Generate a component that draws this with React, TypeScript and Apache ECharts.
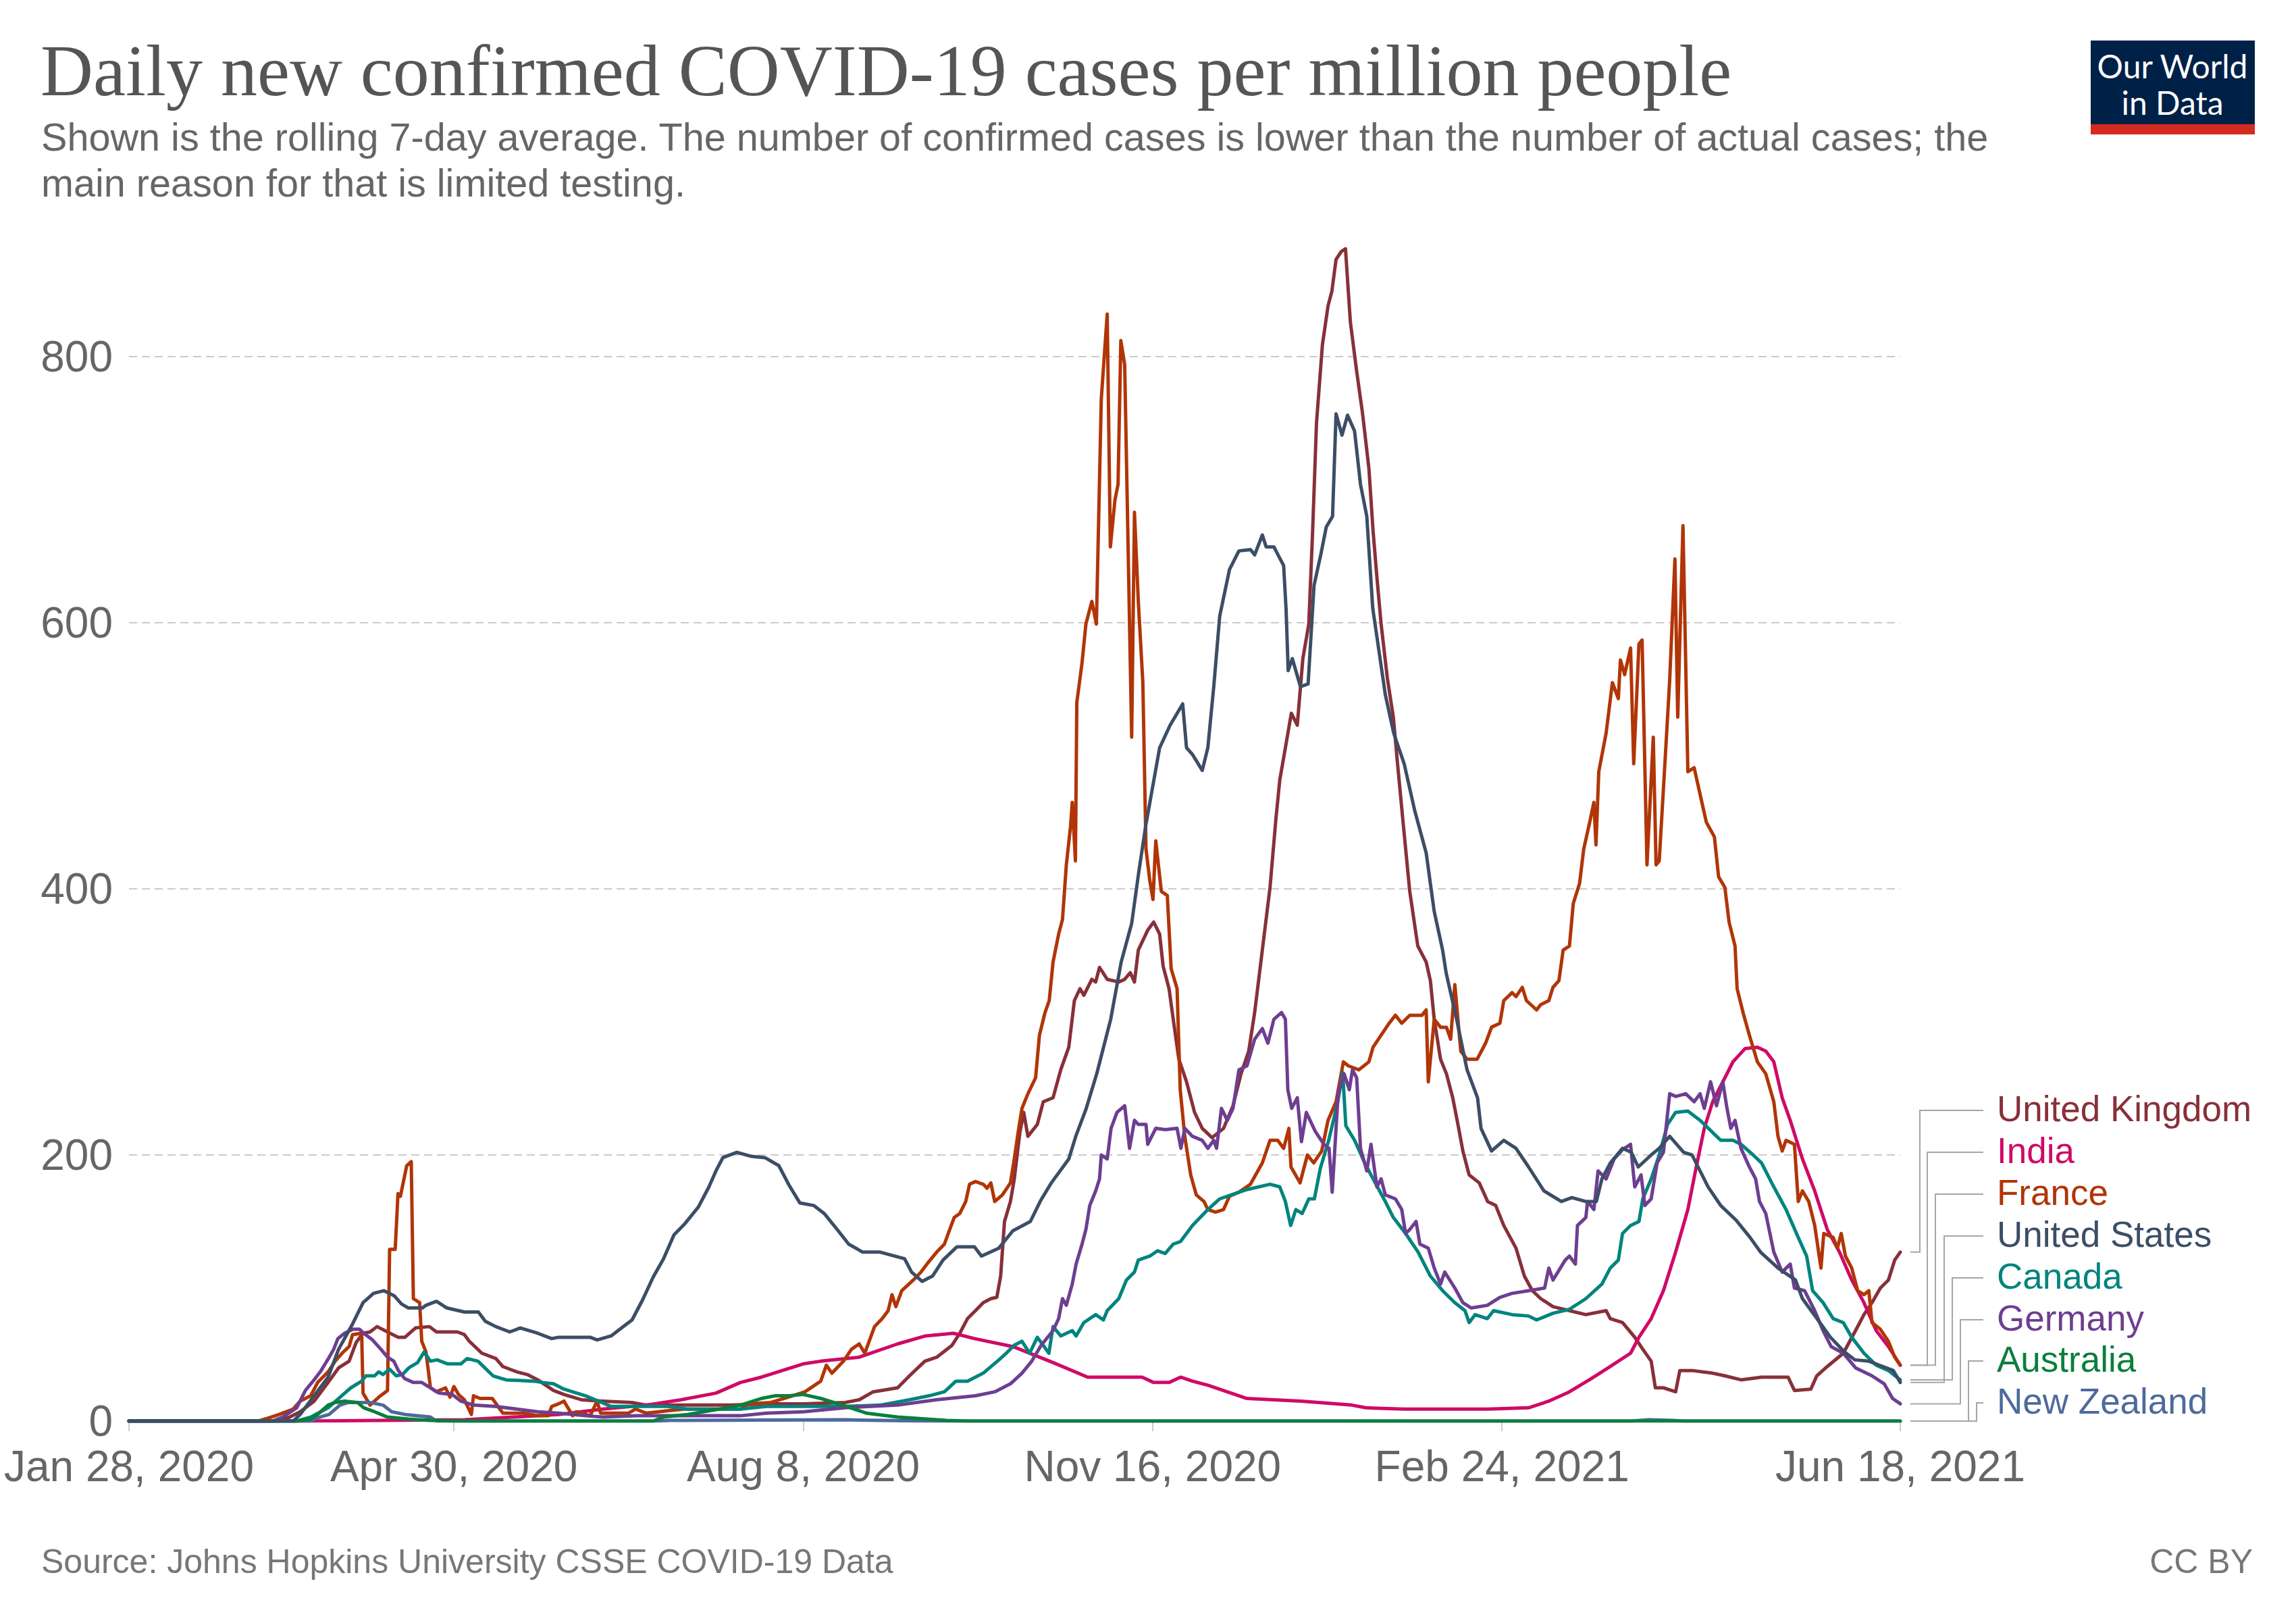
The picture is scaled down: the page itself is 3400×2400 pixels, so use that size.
import { useEffect, useRef } from 'react'
import * as echarts from 'echarts'

// day 0 = Jan 28, 2020; last day 507 = Jun 18, 2021
const tickDays = [0, 93, 193, 293, 393, 507]
const tickLabels = ['Jan 28, 2020', 'Apr 30, 2020', 'Aug 8, 2020', 'Nov 16, 2020', 'Feb 24, 2021', 'Jun 18, 2021']
const yTicks = [0, 200, 400, 600, 800]

const unitedKingdom = [
  [0, 0], [42, 0], [46, 3], [49, 7], [53, 15], [57, 29], [60, 40], [63, 45], [65, 59], [67, 66], [69, 67], [71, 71], [74, 67], [77, 63], [79, 63], [82, 70], [86, 71], [88, 67], [94, 67], [96, 65], [97.4, 60], [101, 51], [105, 47], [107, 41], [111, 37], [114, 35], [117, 31], [121.5, 23], [124.5, 20], [129.5, 16], [135.6, 15], [144, 14], [148, 12], [172, 12], [185, 13], [193, 13], [205, 14], [209, 16], [213, 22], [220, 25], [223.4, 34], [227.8, 45], [231.2, 48], [235.6, 57], [237.8, 66], [240, 77], [242.3, 83], [244.5, 89], [246.7, 92], [248.4, 93], [249.5, 109], [250.6, 150], [252.3, 165], [253.4, 182], [255, 217], [256.1, 232], [257.3, 214], [260, 223], [261.7, 240], [264.5, 243], [266.7, 264], [269, 281], [270.6, 316], [272.2, 325], [273.3, 320], [275.6, 332], [276.7, 330], [277.8, 341], [280, 332], [283.3, 330], [285, 332], [286.6, 337], [287.8, 330], [288.9, 354], [291.6, 369], [293.3, 375], [295, 366], [296, 342], [297.7, 325], [298.9, 302], [300.5, 272], [302.7, 255], [305, 232], [307.2, 220], [310, 213], [313.3, 220], [316, 237], [318.3, 261], [320.5, 278], [322.2, 307], [324.4, 354], [326.6, 401], [328.3, 453], [329.4, 482], [331, 506], [332.7, 532], [334.4, 523], [336, 573], [337.7, 599], [338.8, 669], [339.9, 750], [341.6, 809], [343.2, 838], [344.3, 849], [345.5, 873], [347, 879], [348.2, 881], [349.6, 826], [351.4, 789], [353.1, 757], [354.9, 716], [356.1, 669], [357.2, 634], [358.4, 599], [360.2, 558], [361.9, 529], [363.1, 494], [364.8, 447], [366.6, 398], [368.9, 357], [371.3, 345], [372.5, 331], [373.6, 302], [375.4, 272], [377.1, 261], [378.9, 243], [380.6, 220], [381.8, 203], [383.6, 185], [386.5, 179], [388.9, 165], [391.2, 162], [393.5, 147], [397, 130], [399.4, 109], [401.7, 98], [404.1, 92], [407.6, 86], [412.3, 83], [417, 80], [422.8, 83], [424, 77], [427.5, 74], [431, 63], [433.3, 54], [435.7, 45], [436.9, 25], [439.2, 25], [442.7, 22], [443.9, 38], [447.4, 38], [453.3, 36], [456.8, 34], [461.4, 31], [467.3, 33], [474.9, 33], [476.7, 23], [481.4, 24], [483.1, 34], [486.1, 41], [490.7, 51], [494.2, 68], [496.6, 80], [498.9, 89], [501.3, 100], [503.6, 106], [505.4, 121], [507, 127],
]

const india = [
  [0, 0], [49, 0], [96, 1], [110, 3], [123, 5], [135.6, 9], [148, 12], [158, 16], [168, 21], [175, 29], [181, 33], [187, 38], [193, 43], [198, 45], [209, 48], [220, 58], [228, 64], [236, 66], [242, 62], [253, 56], [264.5, 44], [274.4, 33], [290, 33], [293.3, 29], [297.7, 29], [301, 33], [304.4, 30], [308.8, 27], [320, 17], [335.5, 15], [350, 12], [354, 10], [365, 9], [389, 9], [400.6, 10], [406.4, 15], [412.3, 22], [418, 31], [424, 41], [429.8, 51], [432.2, 63], [435.7, 77], [439.2, 98], [442.7, 127], [446.2, 159], [448.6, 191], [450.9, 220], [453.3, 240], [456.8, 258], [459.1, 270], [462.6, 280], [466.1, 281], [468.5, 278], [470.8, 270], [473.2, 243], [475.5, 226], [479, 197], [482.5, 173], [486.1, 144], [489.6, 127], [493.1, 106], [496.6, 89], [500.1, 68], [503.6, 56], [507, 42],
]

const france = [
  [0, 0], [37, 0], [39.5, 2], [43, 5], [47, 9], [49, 15], [52, 19], [54, 29], [57, 37], [59, 45], [61, 51], [63, 56], [64, 65], [66.6, 66], [67, 21], [69, 12], [71.5, 18], [74, 23], [74.6, 129], [76.2, 129], [77, 171], [77.7, 169], [79.5, 192], [80.8, 195], [81.4, 92], [83.2, 89], [83.8, 60], [85, 52], [86.3, 25], [88, 22], [90.6, 25], [91.9, 18], [93, 26], [94.3, 20], [96, 16], [98, 5], [98.6, 19], [100.5, 17], [104, 17], [107, 6], [113, 6], [117, 4], [120, 4], [121, 11], [123, 13], [124.5, 15], [127, 4], [128, 7], [132, 4], [134, 15], [135, 6], [143, 6], [145, 9], [148, 6], [155, 8], [159, 9], [175, 9], [177.6, 13], [183.7, 14], [188.7, 18], [193.5, 22], [198, 30], [199.6, 42], [201.2, 36], [204.5, 45], [206.8, 54], [209, 58], [210.6, 51], [213.4, 71], [215.6, 77], [217.3, 83], [218.4, 95], [219.5, 86], [221.2, 98], [224.5, 106], [226.7, 112], [229, 120], [231.2, 127], [233.4, 133], [234.5, 141], [236.2, 153], [237.8, 156], [239.5, 165], [240.6, 178], [242.3, 180], [244.5, 178], [245.6, 175], [246.7, 179], [247.8, 165], [250, 170], [252.3, 179], [253.4, 197], [254.5, 217], [255.6, 235], [257.3, 246], [259.5, 258], [260.6, 290], [262.2, 307], [263.4, 316], [264.5, 345], [266.1, 366], [267.2, 377], [268.3, 418], [269.5, 447], [270, 465], [270.9, 421], [271.3, 540], [272.8, 570], [273.9, 599], [275.6, 616], [276.9, 599], [278.3, 768], [280, 832], [280.9, 657], [282.2, 692], [283.1, 704], [283.9, 812], [285, 794], [287, 514], [287.8, 683], [288.9, 616], [290.2, 555], [291.1, 430], [292.2, 406], [293.1, 392], [293.9, 436], [295.5, 398], [297.2, 395], [298.3, 340], [300, 325], [300.9, 249], [302.2, 214], [303.9, 185], [305.5, 170], [307.7, 165], [308.8, 159], [311, 157], [313.3, 159], [315, 169], [317.7, 172], [321, 178], [324.4, 194], [326.6, 211], [328.8, 211], [330.5, 205], [332, 220], [332.6, 191], [335.2, 179], [337.3, 200], [339.1, 194], [341.4, 203], [343.2, 226], [345.5, 240], [347.6, 270], [349, 267], [352, 264], [354.9, 270], [356.1, 281], [358.4, 290], [360.7, 299], [362.5, 305], [364.3, 299], [366.6, 305], [370.1, 305], [371.3, 309], [371.9, 255], [373.6, 302], [375.4, 296], [377.1, 296], [378.3, 287], [379.5, 328], [381.2, 278], [383, 272], [385.9, 272], [388.3, 284], [390, 296], [392.4, 299], [393.5, 316], [395.9, 322], [397, 319], [398.8, 326], [400, 316], [402.9, 309], [404.1, 313], [406.4, 316], [407.6, 326], [409.3, 331], [410.5, 354], [412.3, 357], [413.4, 389], [415.2, 404], [416.4, 430], [418.1, 450], [419.3, 465], [419.9, 433], [420.7, 488], [422.8, 517], [424.6, 555], [426.3, 543], [426.9, 572], [428.1, 561], [429.8, 581], [430.7, 494], [432.2, 584], [433.1, 587], [434.5, 418], [436.3, 514], [437.1, 418], [438, 421], [439.8, 502], [441, 557], [442.5, 648], [443.3, 529], [444.8, 673], [446.2, 488], [448, 491], [449.7, 471], [451.5, 450], [453.8, 439], [455, 409], [456.8, 401], [458, 375], [459.7, 357], [460.3, 325], [462, 307], [463.8, 290], [466.1, 270], [468.5, 261], [470.8, 240], [472, 214], [473.2, 203], [474.3, 211], [476.7, 208], [477.8, 165], [479, 173], [480.8, 165], [482.5, 147], [484.3, 115], [485.1, 141], [487.8, 138], [489, 130], [490.1, 141], [491.3, 124], [493.1, 115], [494.8, 98], [496.6, 95], [498, 98], [498.9, 74], [501.3, 69], [503.6, 60], [505.4, 48], [507, 42],
]

const unitedStates = [
  [0, 0], [47, 0], [49, 5], [53, 19], [57, 33], [60, 54], [64, 73], [67, 89], [70, 96], [73, 98], [76, 94], [78, 88], [80, 85], [84, 85], [85, 87], [88, 90], [91, 85], [96, 82], [100, 82], [102, 75], [105, 71], [109, 67], [112, 70], [117, 66], [121, 62], [123, 63], [132, 63], [134, 61], [138, 64], [141, 70], [144, 76], [147, 91], [150, 108], [153, 122], [156, 140], [159, 148], [163, 161], [166, 176], [168, 188], [170, 198], [174, 202], [178, 199], [182, 198], [186, 192], [189, 177], [192, 164], [196, 162], [199, 156], [203, 143], [206, 133], [210, 127], [215, 127], [222, 122], [224, 112], [227, 105], [230, 109], [233, 121], [237, 131], [242, 131], [244, 124], [249, 130], [253, 143], [258, 150], [261, 166], [264, 179], [269, 197], [271, 214], [274, 235], [277, 261], [281, 302], [284, 345], [287, 374], [289, 412], [291, 447], [295, 506], [298, 523], [301.6, 539], [302.7, 506], [304.4, 501], [307.2, 489], [308.8, 506], [310.5, 552], [312.2, 605], [315, 640], [317.7, 654], [321, 655], [322.2, 651], [324.4, 666], [325.5, 657], [327.7, 657], [330.5, 643], [331.2, 610], [331.8, 564], [333, 573], [335.3, 552], [337.5, 554], [339.2, 628], [341.2, 652], [342.7, 672], [344.5, 680], [345.5, 757], [347.2, 741], [348.8, 756], [350.8, 744], [352.5, 704], [354.3, 680], [356, 611], [359.6, 546], [362, 517], [365, 494], [368, 459], [371.3, 427], [373.6, 383], [376, 354], [377, 337], [380, 302], [383, 264], [386, 243], [387, 220], [390, 203], [393.5, 211], [397, 205], [400.6, 191], [405, 173], [410, 165], [413, 168], [417, 165], [420, 165], [421.6, 182], [424, 194], [427.5, 205], [430, 202], [432, 191], [435.7, 200], [438, 205], [441, 214], [445, 202], [447.4, 200], [452, 176], [455.6, 162], [460, 151], [464, 138], [467, 127], [472, 115], [477, 106], [479, 92], [484, 74], [487, 63], [491, 52], [494, 46], [498, 45], [501, 42], [505, 38], [507, 29],
]

const canada = [
  [0, 0], [48, 0], [52, 3], [57, 10], [60, 17], [63.5, 25], [66.6, 30], [67.8, 34], [70.3, 34], [71.5, 37], [72.7, 35], [74.6, 39], [76.5, 34], [78.3, 35], [80.1, 40], [82.6, 44], [84.5, 52], [86.3, 45], [88.2, 46], [91.2, 43], [95, 43], [96.8, 47], [99.9, 45], [104.2, 34], [107.9, 31], [115.9, 30], [118.4, 29], [121.5, 28], [124.5, 24], [130.7, 19], [134.4, 15], [138, 11], [154, 11], [160, 9], [175, 9], [182.5, 11], [193, 11], [205, 11], [215, 12], [223.4, 16], [229, 19], [233.4, 22], [236.7, 30], [240, 30], [244.5, 36], [249, 46], [251.1, 51], [253.4, 57], [255.6, 60], [257.8, 51], [260, 63], [263.3, 51], [264.5, 71], [266.7, 64], [270, 68], [271.1, 64], [273.3, 74], [276.7, 80], [278.9, 76], [280, 83], [283.3, 92], [285.5, 106], [287.8, 112], [288.9, 121], [292.2, 124], [294.4, 128], [296.6, 126], [298.9, 133], [301, 135], [304.4, 147], [308.8, 159], [312.2, 167], [315.5, 170], [320, 174], [326.6, 178], [329.4, 176], [331, 165], [332.5, 147], [334, 159], [335.8, 156], [337.7, 167], [339.3, 167], [341, 190], [343.4, 211], [346, 240], [347.4, 262], [348.3, 222], [350.8, 211], [353.7, 194], [356.1, 182], [359.6, 165], [361.9, 153], [365.4, 141], [369, 127], [372.5, 109], [376, 98], [379.5, 89], [382.4, 83], [383.6, 74], [385.3, 80], [388.8, 77], [390.6, 83], [395.9, 80], [400.6, 79], [402.9, 76], [407.6, 81], [412.3, 84], [417, 92], [421.6, 103], [424, 115], [426.3, 121], [427.5, 141], [429.8, 147], [432.2, 150], [433.3, 167], [435.7, 182], [438, 200], [440.4, 223], [442.7, 232], [446.2, 233], [449.7, 226], [452.1, 220], [455.6, 211], [459.1, 211], [461.4, 208], [464.9, 200], [467.3, 194], [470.8, 176], [474.3, 159], [477.8, 138], [480.2, 124], [481.9, 98], [484.9, 89], [487.8, 77], [490.7, 74], [493.1, 63], [496.6, 51], [500.1, 42], [503.6, 38], [507, 31],
]

const germany = [
  [0, 0], [41, 0], [44, 3], [48, 10], [50.5, 23], [53, 31], [55, 38], [57.3, 48], [58.6, 54], [59.8, 62], [61.7, 66], [64.1, 69], [66, 69], [67.2, 66], [69.7, 61], [72.1, 54], [74, 48], [75.8, 45], [77.1, 38], [78.9, 32], [81.4, 29], [83.8, 29], [86.3, 25], [88.8, 21], [92.5, 20], [95, 15], [98.6, 12], [104.8, 11], [111, 9], [117, 7], [123, 6], [130.7, 4], [135.6, 3], [145.5, 4], [160, 4], [175, 4], [182.5, 6], [193, 7], [205, 10], [220, 12], [231, 16], [242.3, 19], [247.8, 22], [252.3, 28], [255.6, 36], [258.4, 45], [261.1, 57], [264.5, 68], [266.1, 77], [267.2, 92], [268.3, 87], [270, 103], [271.1, 118], [272.8, 133], [273.9, 144], [275, 162], [276.7, 173], [277.8, 182], [278.3, 200], [280, 197], [281.1, 220], [282.8, 232], [285, 237], [286.4, 205], [287.8, 226], [288.9, 223], [291.1, 223], [291.6, 208], [293.9, 220], [296.6, 219], [300, 220], [301.1, 205], [302.2, 220], [304.4, 214], [307.2, 211], [308.8, 205], [310.5, 211], [311.3, 205], [312.7, 235], [314.4, 226], [316, 235], [317.7, 264], [320, 267], [322.2, 287], [324.4, 295], [326, 284], [327.7, 302], [329.9, 307], [331, 302], [331.7, 249], [332.8, 235], [334.4, 243], [335.6, 210], [337, 232], [339.5, 218], [342, 208], [343.5, 205], [344.4, 172], [346.1, 246], [347.8, 261], [349.3, 249], [350.2, 264], [351.4, 258], [352.5, 205], [354.3, 188], [355.5, 208], [357.2, 176], [358.4, 182], [359.6, 170], [362.5, 167], [364.3, 159], [365.4, 141], [366.6, 144], [368.4, 150], [369.5, 133], [371.9, 130], [373.6, 115], [375.4, 103], [376.6, 112], [379.5, 100], [381.8, 89], [384.2, 85], [388.8, 87], [392.4, 93], [395.9, 96], [400.6, 98], [405.2, 100], [406.4, 115], [407.6, 106], [411.1, 121], [412.3, 124], [414, 118], [414.6, 147], [417, 153], [417.5, 165], [419.3, 159], [420.5, 188], [422.8, 182], [425.1, 197], [427.5, 204], [429.8, 208], [431, 176], [432.8, 185], [433.9, 162], [435.7, 167], [437.4, 194], [439.2, 202], [441, 246], [442.7, 244], [445.6, 246], [448, 240], [449.7, 246], [450.9, 235], [452.7, 255], [454.4, 237], [456.2, 255], [457.4, 235], [458.5, 220], [459.7, 226], [461.4, 205], [463.8, 191], [465.6, 182], [466.7, 165], [468.5, 156], [470.8, 127], [473.2, 112], [475.5, 118], [476.7, 100], [479.6, 98], [482.5, 83], [484.9, 68], [487.2, 56], [490.7, 51], [494.2, 40], [498.9, 34], [502.4, 28], [504.8, 17], [507, 13],
]

const australia = [
  [0, 0], [48, 0], [52, 1.5], [54, 5], [57, 12], [59, 14], [61.7, 15], [65.4, 14], [67.2, 10], [70.3, 7], [74, 3], [80, 1.5], [86, 0.5], [95, 0], [150, 0], [153, 3], [160, 5], [169, 9], [175, 12], [181, 17], [185, 19], [189, 19], [193, 20], [198, 17], [203, 13], [211, 6], [220, 3], [234, 0.5], [240, 0], [507, 0],
]

const newZealand = [
  [0, 0], [52, 0], [54, 2.5], [57.3, 5], [60.4, 12], [62.9, 14], [69, 14], [72.7, 12], [75.2, 7], [79, 5], [86.3, 3], [88, 0], [150, 0], [155, 0.5], [205, 1], [215, 0.5], [230, 0], [430, 0], [435, 1], [442, 0.5], [445, 0], [507, 0],
]

// legend order, top to bottom
const countries = [
  { name: 'United Kingdom', color: '#883039', data: unitedKingdom },
  { name: 'India', color: '#cf0a66', data: india },
  { name: 'France', color: '#b13507', data: france },
  { name: 'United States', color: '#3c4e66', data: unitedStates },
  { name: 'Canada', color: '#00847e', data: canada },
  { name: 'Germany', color: '#6d3e91', data: germany },
  { name: 'Australia', color: '#0a7f3c', data: australia },
  { name: 'New Zealand', color: '#4c6a9c', data: newZealand },
]
const drawOrder = ['United Kingdom', 'India', 'France', 'Canada', 'Germany', 'New Zealand', 'Australia', 'United States']

const SANS = '"Liberation Sans", Arial, sans-serif'

export default function App() {
  const chartRef = useRef<HTMLDivElement>(null)

  useEffect(() => {
    if (!chartRef.current) return
    const chart = echarts.init(chartRef.current, null, { renderer: 'svg' })

    const series = drawOrder.map((name) => {
      const c = countries.find((k) => k.name === name)!
      return {
        name: c.name,
        type: 'line',
        data: c.data,
        symbol: 'none',
        showSymbol: false,
        lineStyle: { color: c.color, width: 5, join: 'round', cap: 'round' },
        itemStyle: { color: c.color },
        emphasis: { disabled: true },
      }
    })

    chart.setOption({
      animation: false,
      backgroundColor: '#fff',
      grid: { left: 191, right: 586, top: 331, bottom: 296 },
      xAxis: {
        type: 'value',
        min: 0,
        max: 507,
        axisLine: { show: true, lineStyle: { color: '#cccccc', width: 2 } },
        axisTick: { show: true, customValues: tickDays, length: 15, lineStyle: { color: '#cccccc', width: 2 } },
        axisLabel: {
          customValues: tickDays,
          formatter: (v: number) => tickLabels[tickDays.indexOf(v)] ?? '',
          color: '#666',
          fontFamily: SANS,
          fontSize: 64,
          margin: 35,
        },
        splitLine: { show: false },
      },
      yAxis: {
        type: 'value',
        min: 0,
        max: 900,
        interval: 200,
        axisLine: { show: false },
        axisTick: { show: false },
        axisLabel: {
          customValues: yTicks,
          color: '#666',
          fontFamily: SANS,
          fontSize: 64,
          margin: 24,
        },
        splitLine: {
          show: true,
          showMinLine: false,
          showMaxLine: false,
          lineStyle: { color: '#cbcbcb', width: 2, type: [12, 7] },
        },
      },
      series,
    })

    // labels and connector lines to the right of the plot
    const connectorY = [1644, 1706, 1768, 1830, 1892, 1954, 2015, 2077]
    const connectorX = [2843, 2854, 2866, 2879, 2891, 2903, 2915, 2927]
    const graphics: any[] = []
    countries.forEach((c, i) => {
      const last = c.data[c.data.length - 1]
      const [, py] = chart.convertToPixel({ gridIndex: 0 }, last) as number[]
      graphics.push({
        type: 'polyline',
        silent: true,
        shape: {
          points: [
            [2829, py],
            [connectorX[i], py],
            [connectorX[i], connectorY[i]],
            [2937, connectorY[i]],
          ],
        },
        style: { stroke: '#a6a6a6', lineWidth: 2, fill: null },
      })
      graphics.push({
        type: 'text',
        x: 2957,
        y: connectorY[i] - 3,
        style: {
          text: c.name,
          fill: c.color,
          font: `53px ${SANS}`,
          align: 'left',
          verticalAlign: 'middle',
          textAlign: 'left',
          textVerticalAlign: 'middle',
        },
      })
    })

    const txt = (text: string, x: number, y: number, font: string, fill: string, align = 'left') => ({
      type: 'text',
      x,
      y,
      silent: true,
      style: { text, fill, font, align, verticalAlign: 'middle', textAlign: align, textVerticalAlign: 'middle' },
    })

    graphics.push(
      txt('Daily new confirmed COVID-19 cases per million people', 60, 104, `108px "Liberation Serif", "Times New Roman", serif`, '#555555'),
      txt('Shown is the rolling 7-day average. The number of confirmed cases is lower than the number of actual cases; the', 61, 203, `57.6px ${SANS}`, '#666666'),
      txt('main reason for that is limited testing.', 61, 271, `57.6px ${SANS}`, '#666666'),
      txt('Source: Johns Hopkins University CSSE COVID-19 Data', 61, 2312, `50px ${SANS}`, '#777777'),
      txt('CC BY', 3336, 2312, `50px ${SANS}`, '#777777', 'right'),
      { type: 'rect', shape: { x: 3096, y: 60, width: 243, height: 125 }, style: { fill: '#002147' }, silent: true },
      { type: 'rect', shape: { x: 3096, y: 184, width: 243, height: 15 }, style: { fill: '#d42b21' }, silent: true },
      txt('Our World', 3217, 97, `48px Lato, ${SANS}`, '#ffffff', 'center'),
      txt('in Data', 3217, 151, `48px Lato, ${SANS}`, '#ffffff', 'center'),
    )

    chart.setOption({ graphic: graphics })

    return () => {
      chart.dispose()
    }
  }, [])

  return (
    <div
      ref={chartRef}
      style={{ position: 'fixed', left: 0, top: 0, width: 3400, height: 2400, background: '#fff' }}
    />
  )
}
